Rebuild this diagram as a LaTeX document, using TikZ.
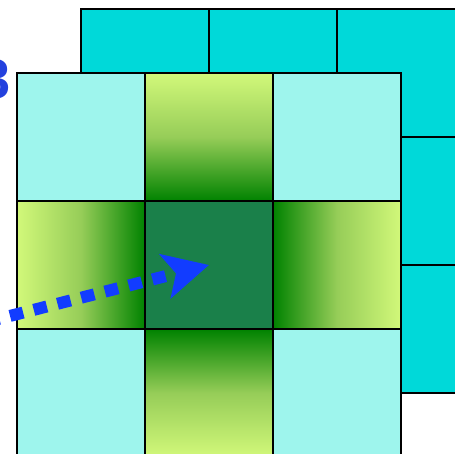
\documentclass[tikz,border=0pt]{standalone}
\usepackage{fontspec}
\setsansfont{Liberation Sans}
\usetikzlibrary{arrows.meta}
\definecolor{backcyan}{RGB}{0,217,217}
\definecolor{frontcyan}{RGB}{158,245,237}
\definecolor{centergreen}{RGB}{26,128,74}
\definecolor{lightgreen}{RGB}{210,248,122}
\definecolor{darkgreen}{RGB}{0,130,0}
\definecolor{midgreen}{RGB}{150,205,88}
\definecolor{arrowblue}{RGB}{18,60,255}
\definecolor{textblue}{RGB}{35,65,222}
\tikzset{
  cell/.style={draw=black, line width=1.6pt, minimum size=128pt, inner sep=0pt, outer sep=0pt},
  backcell/.style={cell, fill=backcyan},
  cornercell/.style={cell, fill=frontcyan},
  centercell/.style={cell, fill=centergreen},
  gradv/.style={cell, top color=#1, bottom color=#1, middle color=midgreen},
}
\begin{document}
\begin{tikzpicture}[x=1pt,y=-1pt]
\useasboundingbox (0,0) rectangle (455,454);
\begin{scope}
\clip (0,0) rectangle (455,454);
% back grid
\foreach \i in {0,1,2}{
  \foreach \j in {0,1,2}{
    \node[backcell] (b\j\i) at ({145+128*\i},{73+128*\j}) {};
  }
}
% front grid
\node[cornercell] (f00) at (81,137) {};
\node[cell, top color=lightgreen, bottom color=darkgreen, middle color=midgreen, shading angle=0] (f01) at (209,137) {};
\node[cornercell] (f02) at (337,137) {};
\node[cell, left color=lightgreen, right color=darkgreen, middle color=midgreen] (f10) at (81,265) {};
\node[centercell] (f11) at (209,265) {};
\node[cell, left color=darkgreen, right color=lightgreen, middle color=midgreen] (f12) at (337,265) {};
\node[cornercell] (f20) at (81,393) {};
\node[cell, top color=darkgreen, bottom color=lightgreen, middle color=midgreen] (f21) at (209,393) {};
\node[cornercell] (f22) at (337,393) {};
% arrow
\coordinate (s) at (-13.7,322);
\draw[arrowblue, line width=12pt, dash pattern=on 13.5pt off 11pt,
  -{Stealth[length=45pt,width=45pt,inset=11pt]}] (s) -- (f11.center);
% label
\node[anchor=base east, inner sep=0pt, text=textblue, font=\sffamily\bfseries\fontsize{56}{60}\selectfont] (lbl) at (11,99) {3};
\end{scope}
\end{tikzpicture}
\end{document}
